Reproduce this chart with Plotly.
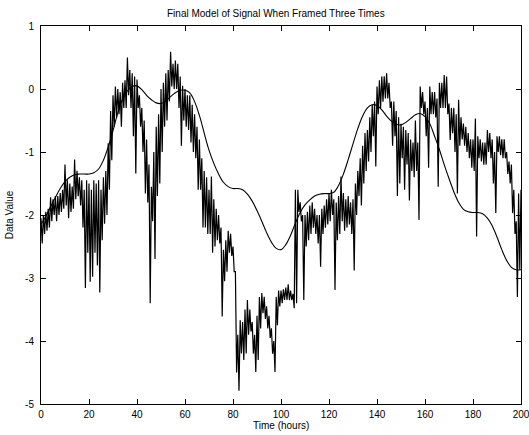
import plotly.graph_objects as go

# Smooth model, sampled every 2 hours
model_t = list(range(0, 201, 2))
model_v = [-2.15, -2.02, -1.87, -1.72, -1.58, -1.47, -1.40, -1.36, -1.35, -1.35,
           -1.35, -1.33, -1.27, -1.13, -0.92, -0.66, -0.38, -0.16, -0.03, 0.04,
           0.05, -0.01, -0.10, -0.17, -0.22, -0.23, -0.19, -0.12, -0.06, -0.02,
           -0.02, -0.06, -0.20, -0.42, -0.70, -0.97, -1.18, -1.35, -1.48, -1.55,
           -1.58, -1.58, -1.60, -1.67, -1.78, -1.93, -2.10, -2.28, -2.43, -2.53,
           -2.55, -2.47, -2.32, -2.13, -1.96, -1.84, -1.76, -1.70, -1.67, -1.66,
           -1.66, -1.64, -1.53, -1.35, -1.12, -0.87, -0.63, -0.43, -0.30, -0.25,
           -0.26, -0.33, -0.43, -0.51, -0.56, -0.57, -0.53, -0.47, -0.41, -0.39,
           -0.44, -0.55, -0.75, -0.96, -1.20, -1.42, -1.63, -1.80, -1.91, -1.95,
           -1.96, -1.96, -1.98, -2.05, -2.17, -2.35, -2.55, -2.72, -2.83, -2.87,
           -2.87]

# Measured signal: upper and lower excursion within each hour (t = 0..200)
sig_hours = list(range(0, 201))
sig_hi = [-2.05, -2.00, -1.95, -1.90, -1.72, -1.75, -1.70, -1.70, -1.65, -1.60,
          -1.20, -1.45, -1.50, -1.55, -1.12, -1.30, -1.40, -1.45, -1.60, -1.45,
          -1.50, -1.60, -1.45, -1.50, -1.45, -1.60, -1.40, -1.30, -0.86, -0.35,
          -0.10, 0.04, 0.00, -0.05, 0.10, 0.14, 0.50, 0.30, 0.25, 0.20,
          0.15, -0.10, -0.30, -0.50, -0.80, -1.20, -1.55, -1.00, -0.60, -0.40,
          0.00, 0.10, 0.25, 0.30, 0.59, 0.40, 0.45, 0.40, 0.20, 0.05,
          0.00, -0.10, -0.10, -0.25, -0.40, -0.60, -0.80, -1.10, -1.30, -1.40,
          -1.60, -1.39, -1.75, -1.90, -2.00, -2.20, -2.55, -2.40, -2.25, -2.30,
          -2.50, -2.90, -3.90, -3.67, -3.70, -3.50, -3.35, -3.50, -3.70, -3.90,
          -3.60, -3.30, -3.24, -3.30, -3.45, -3.60, -3.80, -4.00, -3.30, -3.20,
          -3.20, -3.18, -3.15, -3.10, -3.20, -3.25, -1.60, -1.60, -1.80, -2.00,
          -2.00, -1.95, -1.85, -1.80, -1.90, -2.00, -2.00, -1.90, -1.85, -1.75,
          -1.65, -1.60, -1.75, -1.80, -1.70, -1.39, -1.65, -1.75, -1.70, -1.80,
          -1.75, -1.50, -1.30, -1.10, -0.90, -0.70, -0.65, -0.45, -0.25, -0.20,
          0.04, 0.14, 0.20, 0.20, 0.25, 0.10, -0.20, -0.20, -0.35, -0.45,
          -0.55, -0.60, -0.65, -0.70, -0.80, -0.85, -0.50, -0.85, 0.04, -0.05,
          -0.20, -0.30, 0.04, -0.05, -0.05, -0.15, 0.10, 0.10, 0.22, 0.20,
          -0.23, -0.30, -0.30, -0.40, -0.17, -0.45, -0.55, -0.60, -0.70, -0.80,
          -0.80, -0.47, -0.75, -0.80, -0.85, -0.85, -0.65, -0.70, -0.80, -1.00,
          -0.75, -0.75, -0.80, -0.80, -1.00, -1.15, -1.20, -1.60, -2.10, -1.66,
          -1.60]
sig_lo = [-2.45, -2.30, -2.25, -2.20, -2.10, -2.00, -2.10, -2.00, -1.95, -1.90,
          -1.85, -2.05, -1.95, -1.90, -1.75, -1.70, -1.85, -2.20, -3.16, -2.60,
          -3.06, -2.98, -2.60, -2.80, -3.23, -2.40, -2.14, -2.00, -1.60, -1.13,
          -0.60, -0.45, -0.40, -0.60, -0.30, -0.30, -0.10, -0.30, -0.75, -1.34,
          -0.30, -0.60, -1.00, -1.66, -1.80, -3.40, -2.10, -2.70, -1.70, -1.50,
          -1.00, -0.60, -0.50, -0.20, 0.04, 0.00, 0.00, -0.30, -0.90, -0.50,
          -0.60, -0.65, -0.85, -1.00, -1.10, -1.60, -1.60, -2.20, -2.20, -2.30,
          -2.30, -2.60, -2.50, -2.40, -2.45, -3.61, -3.05, -2.90, -2.60, -2.65,
          -2.90, -4.50, -4.79, -4.20, -4.30, -4.20, -3.90, -3.85, -4.20, -4.49,
          -4.30, -3.80, -3.56, -3.65, -3.80, -3.95, -4.20, -4.49, -3.75, -3.45,
          -3.40, -3.35, -3.35, -3.35, -3.35, -3.48, -3.40, -1.95, -2.10, -3.35,
          -2.50, -2.40, -2.30, -2.20, -2.30, -2.45, -2.82, -2.30, -2.20, -2.15,
          -2.10, -2.00, -3.19, -2.40, -2.30, -2.10, -2.25, -2.20, -2.15, -2.30,
          -2.88, -2.00, -1.70, -1.85, -1.50, -1.30, -1.15, -1.00, -0.75, -1.23,
          -0.40, -0.30, -0.20, -0.15, -0.15, -0.30, -0.90, -0.75, -1.70, -1.50,
          -1.10, -1.60, -1.20, -1.77, -1.30, -1.40, -1.30, -2.08, -0.30, -0.40,
          -0.75, -1.25, -0.40, -0.40, -0.45, -1.55, -0.30, -0.30, -0.30, -0.40,
          -0.81, -0.70, -1.00, -1.66, -0.90, -0.80, -0.90, -1.00, -1.10, -1.25,
          -1.30, -2.34, -1.10, -1.15, -1.20, -1.20, -1.00, -1.10, -1.50, -1.97,
          -1.00, -1.05, -1.10, -1.10, -1.35, -1.50, -1.97, -2.30, -3.30, -2.87,
          -2.10]

x_ticks = [0, 20, 40, 60, 80, 100, 120, 140, 160, 180, 200]
y_ticks = [1, 0, -1, -2, -3, -4, -5]
y_tick_text = ["1", "0", "-1", "-2", "-3", "-4", "-5"]

# Interleave the high and low excursions into one continuous trace
sig_x, sig_y = [], []
for t, hi, lo in zip(sig_hours, sig_hi, sig_lo):
    sig_x += [t, t + 0.5]
    sig_y += [hi, lo]

fig = go.Figure()
fig.add_trace(go.Scatter(x=sig_x, y=sig_y, mode="lines",
                         line=dict(color="black", width=1.2),
                         hoverinfo="skip", showlegend=False))
fig.add_trace(go.Scatter(x=model_t, y=model_v, mode="lines",
                         line=dict(color="black", width=1.1, shape="spline"),
                         showlegend=False))

font = dict(family="Liberation Sans, Arial, Helvetica, sans-serif", size=10, color="black")
axis_common = dict(showgrid=False, zeroline=False, showline=True, linecolor="black",
                   linewidth=1, mirror="ticks", ticks="inside", ticklen=5,
                   tickcolor="black", tickwidth=1, tickfont=font,
                   ticklabeloverflow="allow", automargin=False)

fig.update_layout(
    width=529, height=435,
    margin=dict(l=41, r=8, t=26, b=31, autoexpand=False),
    paper_bgcolor="white", plot_bgcolor="white",
    font=font,
    xaxis=dict(range=[0, 200], tickvals=x_ticks, ticklabelstandoff=1, **axis_common),
    yaxis=dict(range=[-5, 1], tickvals=y_ticks, ticktext=y_tick_text,
               ticklabelstandoff=4, **axis_common),
    annotations=[
        dict(text="Final Model of Signal When Framed Three Times", xref="paper", yref="paper",
             x=0.49, y=1.032, showarrow=False, font=font, xanchor="center", yanchor="middle"),
        dict(text="Time (hours)", xref="paper", yref="paper", x=0.5, y=-0.057,
             showarrow=False, font=font, xanchor="center", yanchor="middle"),
        dict(text="Data Value", xref="paper", yref="paper", x=-0.066, y=0.5,
             showarrow=False, font=font, textangle=-90, xanchor="center", yanchor="middle"),
    ],
)

fig.write_html("out.html")
